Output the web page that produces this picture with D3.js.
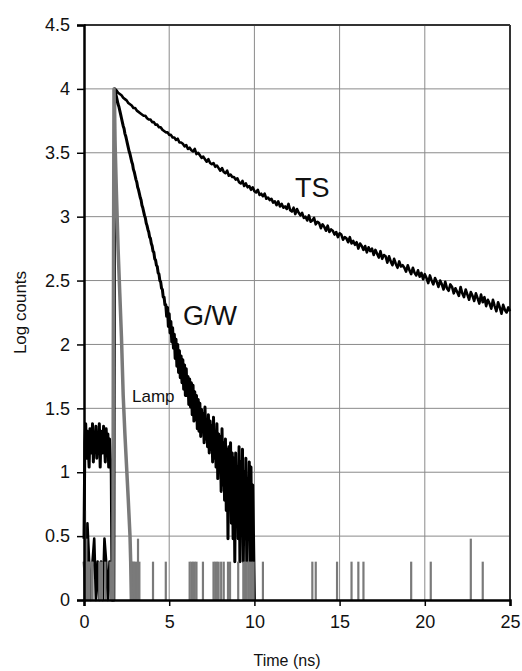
<!DOCTYPE html>
<html>
<head>
<meta charset="utf-8">
<script src="https://cdn.jsdelivr.net/npm/d3@7"></script>
<style>
  body { margin: 0; background: #fff; }
  text { font-family: "Liberation Sans", Arial, sans-serif; fill: #111; }
</style>
</head>
<body>
<script>
// axis ticks
const xTicks = [0, 5, 10, 15, 20, 25];
const yTicks = [0, 0.5, 1, 1.5, 2, 2.5, 3, 3.5, 4, 4.5];

// TS trace, one value per 0.1 ns channel starting at t = 0
const tsStep = 0.1;
const tsCounts = [
  0.30, 0.00, 0.60, 0.30, 0.00, 0.30, 0.48, 0.00, 0.30, 0.00, 0.30, 0.00, 0.48, 0.30, 0.00, 0.30, 0.00, 0.00,
  4.00, 3.99, 3.97, 3.96, 3.95, 3.93, 3.92, 3.91, 3.89, 3.88,
  3.87, 3.85, 3.85, 3.83, 3.82, 3.81, 3.80, 3.79, 3.79, 3.77,
  3.76, 3.76, 3.74, 3.74, 3.72, 3.72, 3.70, 3.70, 3.68, 3.67,
  3.66, 3.66, 3.64, 3.64, 3.62, 3.62, 3.60, 3.61, 3.58, 3.58,
  3.57, 3.55, 3.56, 3.53, 3.54, 3.52, 3.51, 3.53, 3.49, 3.50,
  3.48, 3.46, 3.47, 3.45, 3.43, 3.45, 3.42, 3.41, 3.42, 3.39,
  3.40, 3.38, 3.36, 3.38, 3.35, 3.34, 3.36, 3.32, 3.33, 3.31,
  3.31, 3.29, 3.30, 3.27, 3.26, 3.28, 3.24, 3.26, 3.23, 3.24,
  3.21, 3.23, 3.20, 3.19, 3.21, 3.17, 3.18, 3.16, 3.18, 3.14,
  3.15, 3.13, 3.14, 3.11, 3.12, 3.09, 3.12, 3.08, 3.10, 3.07,
  3.08, 3.06, 3.10, 3.05, 3.04, 3.07, 3.02, 3.06, 3.03, 3.01,
  3.03, 2.99, 3.00, 2.97, 3.01, 2.96, 2.97, 2.99, 2.94, 2.96,
  2.95, 2.91, 2.94, 2.92, 2.89, 2.93, 2.88, 2.90, 2.89, 2.86,
  2.88, 2.84, 2.87, 2.86, 2.82, 2.84, 2.83, 2.80, 2.84, 2.79,
  2.81, 2.78, 2.80, 2.75, 2.79, 2.77, 2.74, 2.77, 2.72, 2.76,
  2.73, 2.75, 2.70, 2.74, 2.71, 2.68, 2.73, 2.67, 2.70, 2.69,
  2.64, 2.69, 2.65, 2.62, 2.67, 2.63, 2.60, 2.65, 2.61, 2.62,
  2.60, 2.57, 2.62, 2.58, 2.55, 2.60, 2.56, 2.54, 2.58, 2.53,
  2.56, 2.51, 2.55, 2.52, 2.48, 2.54, 2.50, 2.47, 2.52, 2.49,
  2.45, 2.50, 2.47, 2.43, 2.49, 2.44, 2.42, 2.47, 2.45, 2.40,
  2.44, 2.41, 2.38, 2.45, 2.40, 2.37, 2.43, 2.39, 2.35, 2.41,
  2.38, 2.34, 2.40, 2.36, 2.32, 2.39, 2.33, 2.37, 2.30, 2.35,
  2.32, 2.28, 2.35, 2.30, 2.26, 2.33, 2.29, 2.24, 2.31, 2.27,
  2.25, 2.29, 2.26
];

// G/W trace, one value per 0.05 ns channel starting at t = 0
const gwStep = 0.05;
const gwCounts = [
  0.48, 1.23, 1.38, 1.11, 1.32, 1.20, 1.04, 1.34, 1.26, 1.15, 1.38, 1.08,
  1.30, 1.23, 1.36, 1.11, 1.28, 1.20, 1.38, 1.04, 1.32, 1.26, 1.15, 1.36,
  1.23, 1.08, 1.34, 1.20, 1.30, 1.04, 1.26, 1.11, 1.00, 0.00, 0.00, 0.00,
  4.00, 3.97, 3.94, 3.91, 3.88, 3.86, 3.83, 3.80, 3.77, 3.74,
  3.71, 3.69, 3.65, 3.63, 3.60, 3.57, 3.54, 3.51, 3.49, 3.46,
  3.43, 3.41, 3.37, 3.35, 3.32, 3.29, 3.27, 3.23, 3.21, 3.18,
  3.15, 3.13, 3.09, 3.07, 3.04, 3.01, 2.99, 2.95, 2.93, 2.90,
  2.88, 2.84, 2.83, 2.79, 2.77, 2.73, 2.72, 2.67, 2.66, 2.62,
  2.61, 2.56, 2.55, 2.50, 2.49, 2.44, 2.43, 2.37, 2.37, 2.31,
  2.31, 2.22, 2.29, 2.14, 2.24, 2.09, 2.18, 2.02, 2.13, 1.97,
  2.08, 1.89, 2.04, 1.83, 2.00, 1.78, 1.95, 1.74, 1.91, 1.70,
  1.88, 1.65, 1.84, 1.60, 1.81, 1.60, 1.75, 1.53, 1.73, 1.51,
  1.70, 1.45, 1.68, 1.40, 1.63, 1.41, 1.60, 1.34, 1.57, 1.32,
  1.54, 1.28, 1.49, 1.32, 1.46, 1.23, 1.51, 1.26, 1.41, 1.20,
  1.45, 1.15, 1.40, 1.18, 1.36, 1.08, 1.43, 1.11, 1.32, 1.04,
  1.38, 0.95, 1.30, 1.04, 1.28, 0.85, 1.34, 0.90, 1.23, 0.78,
  1.26, 0.70, 1.18, 0.48, 1.20, 0.78, 1.23, 0.60, 1.15, 0.48,
  1.11, 0.30, 1.15, 0.70, 1.04, 0.48, 1.20, 0.30, 1.08, 0.60,
  1.18, 0.30, 1.00, 0.48, 1.11, 0.30, 0.95, 0.60, 1.08, 0.30,
  1.04, 0.30, 0.90, 0.48, 0.00
];

// lamp pulse
const lampPulseT = [1.70, 1.72, 1.76, 1.82, 1.90, 2.00, 2.10, 2.20, 2.30, 2.40, 2.50, 2.60, 2.70, 2.74, 2.78];
const lampPulseV = [0.00, 2.00, 4.00, 3.60, 3.20, 2.75, 2.40, 2.05, 1.60, 1.30, 1.04, 0.78, 0.50, 0.30, 0.00];

// lamp background counts (single-count spikes)
const lampSpikeT = [0.02, 0.06, 0.10, 0.14, 0.20, 0.26, 0.32, 0.45, 0.50, 0.90, 0.95, 1.05, 1.25, 1.55, 1.62,
  2.80, 2.86, 2.92, 3.00, 3.10, 3.17, 3.25, 4.05, 4.80, 6.20, 6.30, 6.40, 6.50, 6.60, 6.98,
  7.60, 7.70, 7.80, 7.90, 8.05, 8.20, 8.45, 8.57, 9.05, 9.35, 9.45, 9.55, 9.65, 9.75, 9.85, 9.95,
  10.50, 13.40, 13.60, 14.85, 15.70, 16.10, 16.40, 19.20, 20.35, 22.70, 23.40];
const lampSpikeV = [0.30, 0.70, 0.30, 0.48, 0.30, 0.30, 0.30, 0.30, 0.30, 0.30, 0.30, 0.30, 0.30, 0.30, 0.30,
  0.30, 0.30, 0.30, 0.30, 0.30, 0.48, 0.30, 0.30, 0.30, 0.30, 0.30, 0.30, 0.30, 0.30, 0.30,
  0.30, 0.30, 0.30, 0.30, 0.30, 0.30, 0.30, 0.30, 0.30, 0.30, 0.30, 0.30, 0.30, 0.30, 0.30, 0.30,
  0.30, 0.30, 0.30, 0.30, 0.30, 0.30, 0.30, 0.30, 0.30, 0.48, 0.30];

const W = 522, H = 671;
const margin = { top: 25, right: 12, bottom: 71, left: 84 };
const width = W - margin.left - margin.right;
const height = H - margin.top - margin.bottom;

const svg = d3.select("body").append("svg")
    .attr("width", W)
    .attr("height", H);

const g = svg.append("g")
    .attr("transform", `translate(${margin.left},${margin.top})`);

const x = d3.scaleLinear().domain([0, 25]).range([0, width]);
const y = d3.scaleLinear().domain([0, 4.5]).range([height, 0]);

// grid
g.selectAll(".vgrid")
    .data(xTicks.slice(1, -1))
    .enter().append("line")
    .attr("x1", d => x(d)).attr("x2", d => x(d))
    .attr("y1", 0).attr("y2", height)
    .attr("stroke", "#8a8a8a")
    .attr("stroke-width", 1);

g.selectAll(".hgrid")
    .data(yTicks.slice(1, -1))
    .enter().append("line")
    .attr("x1", 0).attr("x2", width)
    .attr("y1", d => y(d)).attr("y2", d => y(d))
    .attr("stroke", "#8a8a8a")
    .attr("stroke-width", 1);

// top and right frame
g.append("line")
    .attr("x1", 0).attr("x2", width)
    .attr("y1", y(4.5)).attr("y2", y(4.5))
    .attr("stroke", "#333").attr("stroke-width", 2);
g.append("line")
    .attr("x1", x(25)).attr("x2", x(25))
    .attr("y1", 0).attr("y2", height)
    .attr("stroke", "#333").attr("stroke-width", 2);

// black traces
const gwLine = d3.line()
    .x((d, i) => x(i * gwStep))
    .y(d => y(d));
const tsLine = d3.line()
    .x((d, i) => x(i * tsStep))
    .y(d => y(d));

g.append("path")
    .datum(gwCounts)
    .attr("fill", "none")
    .attr("stroke", "#000")
    .attr("stroke-width", 3)
    .attr("stroke-linejoin", "round")
    .attr("d", gwLine);

g.append("path")
    .datum(tsCounts)
    .attr("fill", "none")
    .attr("stroke", "#000")
    .attr("stroke-width", 2.6)
    .attr("stroke-linejoin", "round")
    .attr("d", tsLine);

// lamp (grey), drawn on top
g.selectAll(".spike")
    .data(lampSpikeT)
    .enter().append("line")
    .attr("x1", d => x(d)).attr("x2", d => x(d))
    .attr("y1", y(0))
    .attr("y2", (d, i) => y(lampSpikeV[i]))
    .attr("stroke", "#7a7a7a")
    .attr("stroke-width", 2.2);

const lampLine = d3.line()
    .x((d, i) => x(lampPulseT[i]))
    .y(d => y(d));

g.append("path")
    .datum(lampPulseV)
    .attr("fill", "none")
    .attr("stroke", "#7a7a7a")
    .attr("stroke-width", 3.5)
    .attr("stroke-linejoin", "round")
    .attr("d", lampLine);

// axes
const xAxis = g.append("g")
    .attr("transform", `translate(0,${height})`)
    .call(d3.axisBottom(x).tickValues(xTicks).tickSize(6).tickPadding(9));
const yAxis = g.append("g")
    .call(d3.axisLeft(y).tickValues(yTicks).tickSize(7).tickPadding(7).tickFormat(d3.format("")));

[xAxis, yAxis].forEach(a => {
    a.select(".domain").attr("stroke", "#000").attr("stroke-width", 2.5);
    a.selectAll(".tick line").attr("stroke", "#000").attr("stroke-width", 1.5);
    a.selectAll(".tick text")
        .style("font-size", "18px")
        .style("font-family", "'Liberation Sans', Arial, sans-serif")
        .attr("fill", "#111");
});

// axis titles
svg.append("text")
    .attr("x", 287)
    .attr("y", 666)
    .attr("text-anchor", "middle")
    .style("font-size", "16px")
    .text("Time (ns)");

svg.append("text")
    .attr("transform", `translate(26,${margin.top + height / 2}) rotate(-90)`)
    .attr("text-anchor", "middle")
    .style("font-size", "17px")
    .text("Log counts");

// curve labels
svg.append("text")
    .attr("x", 295).attr("y", 197)
    .style("font-size", "27px")
    .text("TS");

svg.append("text")
    .attr("x", 183).attr("y", 325)
    .style("font-size", "27px")
    .text("G/W");

svg.append("text")
    .attr("x", 132).attr("y", 402)
    .style("font-size", "17px")
    .text("Lamp");
</script>
</body>
</html>
